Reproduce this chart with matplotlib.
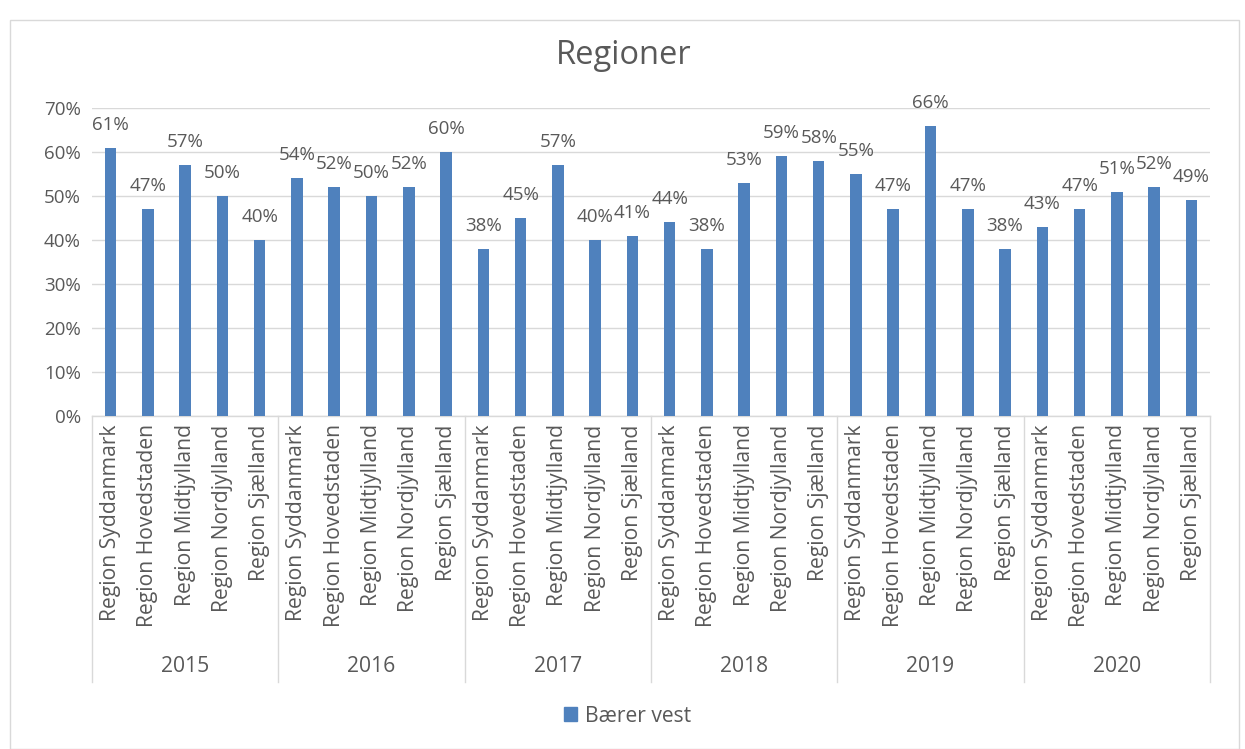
import matplotlib
matplotlib.use("Agg")
import matplotlib.pyplot as plt
import matplotlib.transforms as mtransforms
from matplotlib.patches import Rectangle, Patch
from matplotlib.ticker import PercentFormatter, MultipleLocator

plt.rcParams['font.family'] = ['Open Sans', 'DejaVu Sans']

years = ["2015", "2016", "2017", "2018", "2019", "2020"]
regions = ["Region Syddanmark", "Region Hovedstaden", "Region Midtjylland",
           "Region Nordjylland", "Region Sjælland"]
vals_2015 = [61, 47, 57, 50, 40]
vals_2016 = [54, 52, 50, 52, 60]
vals_2017 = [38, 45, 57, 40, 41]
vals_2018 = [44, 38, 53, 59, 58]
vals_2019 = [55, 47, 66, 47, 38]
vals_2020 = [43, 47, 51, 52, 49]
series_name = "Bærer vest"

values = vals_2015 + vals_2016 + vals_2017 + vals_2018 + vals_2019 + vals_2020
labels = regions * len(years)

W, H = 1245, 749
fig = plt.figure(figsize=(W / 100, H / 100), dpi=100)
fig.patch.set_facecolor('white')
fig.add_artist(Rectangle((10 / W, 0), (1239 - 10) / W, (739 - 10) / H + 0.0,
                         transform=fig.transFigure, fill=False,
                         edgecolor='#D9D9D9', lw=1.0))

left, right, top, bottom = 92, 1210, 108, 416
ax = fig.add_axes([left / W, 1 - bottom / H, (right - left) / W, (bottom - top) / H])

txt = '#595959'
bar_color = '#4F81BD'
fs = 13.5
fs_cat = 15.2
x = list(range(len(values)))
fracs = [v / 100 for v in values]
bars = ax.bar(x, fracs, width=0.31, color=bar_color, zorder=3)

ax.set_xlim(-0.5, len(values) - 0.5)
ax.set_ylim(0, 0.70)
ax.yaxis.set_major_locator(MultipleLocator(0.1))
ax.yaxis.set_major_formatter(PercentFormatter(1.0, decimals=0))
ax.grid(axis='y', color='#D9D9D9', lw=1.0, zorder=0)
for s in ['top', 'right', 'left']:
    ax.spines[s].set_visible(False)
ax.spines['bottom'].set_color('#D9D9D9')
ax.spines['bottom'].set_linewidth(1.0)
ax.tick_params(axis='y', length=0, labelsize=fs, labelcolor=txt, pad=8)
ax.set_xticks(x)
ax.set_xticklabels(labels, rotation=90, fontsize=fs_cat, color=txt)
ax.tick_params(axis='x', length=0, pad=6)

for xi, v in zip(x, values):
    ax.annotate(f"{v}%", (xi, v / 100), xytext=(0, 13), textcoords='offset points',
                ha='center', va='baseline', fontsize=fs, color=txt)

trans = mtransforms.blended_transform_factory(ax.transData, ax.transAxes)
ax_h = bottom - top
sep_bottom = -(682 - bottom) / ax_h
n = len(regions)
for g in range(len(years) + 1):
    xs = g * n - 0.5
    ax.plot([xs, xs], [0, sep_bottom], transform=trans, color='#D9D9D9',
            lw=1.0, clip_on=False)
for g, yr in enumerate(years):
    ax.text(g * n + (n - 1) / 2, -(666 - bottom) / ax_h, yr, transform=trans,
            ha='center', va='center', fontsize=fs_cat, color=txt)

fig.text(624 / W, 1 - 55 / H, "Regioner", ha='center', va='center',
         fontsize=23.5, color=txt)

fig.legend(handles=[Patch(color=bar_color, label=series_name)],
           loc='center', bbox_to_anchor=(628 / W, 1 - 716 / H), frameon=False,
           fontsize=fs_cat, labelcolor=txt, handlelength=0.6, handleheight=0.6,
           handletextpad=0.4)

fig.savefig("out.png", dpi=100, facecolor='white')
